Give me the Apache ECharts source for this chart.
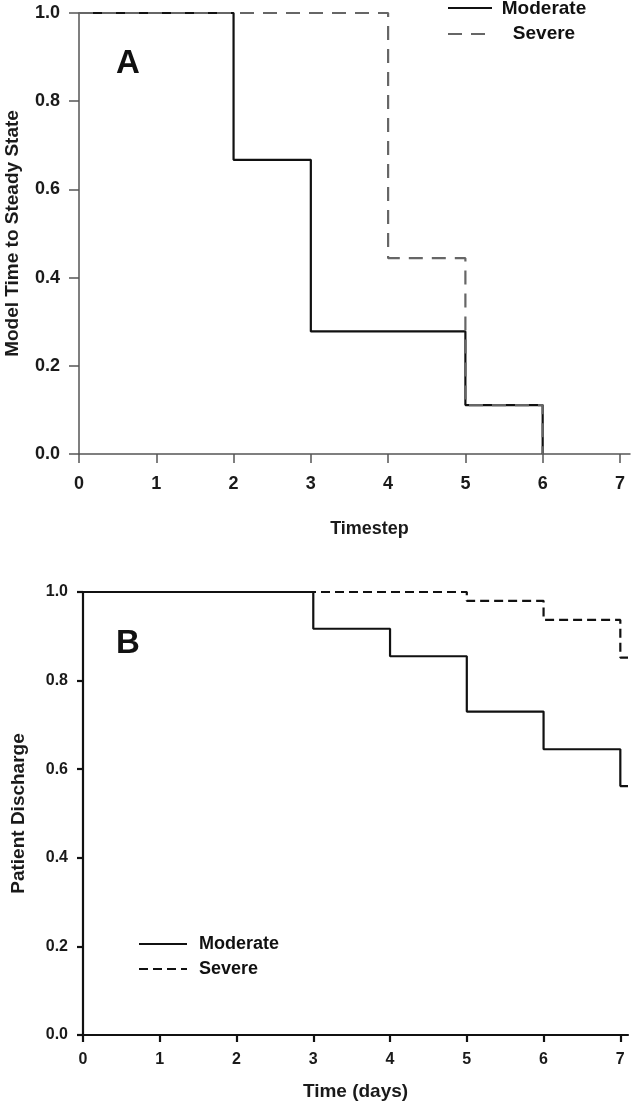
<!DOCTYPE html>
<html>
<head>
<meta charset="utf-8">
<script src="https://cdn.jsdelivr.net/npm/echarts@6/dist/echarts.min.js"></script>
<style>
html,body{margin:0;padding:0;background:#fff;}
#chart{width:631px;height:1111px;}
</style>
</head>
<body>
<div id="chart"></div>
<script>
// ---- data ----
const seriesNames = ['Moderate', 'Severe'];
const xTickValues = [0, 1, 2, 3, 4, 5, 6, 7];
const yTickValues = [0, 0.2, 0.4, 0.6, 0.8, 1.0];

// Panel A: model time to steady state (step drops at each timestep)
const topModerateX = [0, 2, 3, 5, 6];
const topModerateY = [1, 0.667, 0.278, 0.111, 0];
const topSevereX = [0, 4, 5, 6];
const topSevereY = [1, 0.444, 0.111, 0];

// Panel B: patient discharge over days
const botModerateX = [0, 3, 4, 5, 6, 7, 7.1];
const botModerateY = [1, 0.917, 0.855, 0.73, 0.645, 0.562, 0.562];
const botSevereX = [0, 5, 6, 7, 7.1];
const botSevereY = [1, 0.98, 0.937, 0.852, 0.852];

const topTitles = { x: 'Timestep', y: 'Model Time to Steady State', panel: 'A' };
const botTitles = { x: 'Time (days)', y: 'Patient Discharge', panel: 'B' };

function pairs(xs, ys) { return xs.map((x, i) => [x, ys[i]]); }

const FONT = '"Liberation Sans", Arial, sans-serif';

function xAxisCfg(gridIndex, max, color, width, labelSize, margin, tickLen, name, nameGap, nameSize, namePad) {
  return {
    type: 'value', gridIndex, min: 0, max, interval: 1,
    axisLine: { show: true, onZero: false, lineStyle: { color, width } },
    axisTick: { show: true, customValues: xTickValues, length: tickLen, lineStyle: { color, width } },
    axisLabel: { customValues: xTickValues, margin, fontFamily: FONT, fontWeight: 'bold', fontSize: labelSize, color: '#1a1a1a' },
    splitLine: { show: false },
    name, nameLocation: 'middle', nameGap,
    nameTextStyle: { fontFamily: FONT, fontWeight: 'bold', fontSize: nameSize, color: '#1a1a1a', padding: namePad }
  };
}
function yAxisCfg(gridIndex, color, width, labelSize, margin, tickLen, name, nameGap, nameSize) {
  return {
    type: 'value', gridIndex, min: 0, max: 1, interval: 0.2,
    axisLine: { show: true, onZero: false, lineStyle: { color, width } },
    axisTick: { show: true, length: tickLen, lineStyle: { color, width } },
    axisLabel: { margin, fontFamily: FONT, fontWeight: 'bold', fontSize: labelSize, color: '#1a1a1a',
      formatter: v => v.toFixed(1) },
    splitLine: { show: false },
    name, nameLocation: 'middle', nameGap,
    nameTextStyle: { fontFamily: FONT, fontWeight: 'bold', fontSize: nameSize, color: '#1a1a1a' }
  };
}

const chart = echarts.init(document.getElementById('chart'), null, { renderer: 'canvas' });

const legendText = { fontFamily: FONT, fontWeight: 'bold', fontSize: 18, fill: '#111' };

chart.setOption({
  backgroundColor: '#fff',
  animation: false,
  grid: [
    { left: 79, top: 13, width: 551, height: 441, containLabel: false, outerBoundsMode: 'none' },
    { left: 83, top: 592, width: 545, height: 443, containLabel: false, outerBoundsMode: 'none' }
  ],
  xAxis: [
    xAxisCfg(0, 7.13, '#555', 1.5, 18, 21, 9, topTitles.x, 66, 18, [0, 0, 0, 30]),
    xAxisCfg(1, 7.1, '#111', 2.2, 16, 17, 7, botTitles.x, 47, 19, [0, 0, 0, 0])
  ],
  yAxis: [
    yAxisCfg(0, '#555', 1.5, 18, 19, 10, topTitles.y, 57, 19),
    yAxisCfg(1, '#111', 2.2, 16, 15, 6, botTitles.y, 55, 19)
  ],
  series: [
    { name: seriesNames[0], type: 'line', xAxisIndex: 0, yAxisIndex: 0, step: 'end', symbol: 'none',
      data: pairs(topModerateX, topModerateY), lineStyle: { color: '#111', width: 2.2 }, z: 3 },
    { name: seriesNames[1], type: 'line', xAxisIndex: 0, yAxisIndex: 0, step: 'end', symbol: 'none',
      data: pairs(topSevereX, topSevereY), lineStyle: { color: '#666', width: 2.2, type: [14, 9] }, z: 4 },
    { name: seriesNames[0], type: 'line', xAxisIndex: 1, yAxisIndex: 1, step: 'end', symbol: 'none',
      data: pairs(botModerateX, botModerateY), lineStyle: { color: '#111', width: 2.2 }, z: 3 },
    { name: seriesNames[1], type: 'line', xAxisIndex: 1, yAxisIndex: 1, step: 'end', symbol: 'none',
      data: pairs(botSevereX, botSevereY), lineStyle: { color: '#111', width: 2.2, type: [9, 5] }, z: 4 }
  ],
  graphic: [
    { type: 'text', left: 116, top: 47, style: { text: topTitles.panel, fontFamily: FONT, fontWeight: 'bold', fontSize: 33, fill: '#111' } },
    { type: 'text', left: 116, top: 627, style: { text: botTitles.panel, fontFamily: FONT, fontWeight: 'bold', fontSize: 33, fill: '#111' } },
    // legend A
    { type: 'line', shape: { x1: 448, y1: 8, x2: 492, y2: 8 }, style: { stroke: '#111', lineWidth: 2 } },
    { type: 'line', shape: { x1: 448, y1: 34, x2: 492, y2: 34 }, style: { stroke: '#666', lineWidth: 2, lineDash: [14, 9] } },
    { type: 'text', x: 544, y: 9, style: Object.assign({ text: seriesNames[0], align: 'center', verticalAlign: 'middle' }, legendText, { fontSize: 19 }) },
    { type: 'text', x: 544, y: 34, style: Object.assign({ text: seriesNames[1], align: 'center', verticalAlign: 'middle' }, legendText, { fontSize: 19 }) },
    // legend B
    { type: 'line', shape: { x1: 139, y1: 944, x2: 187, y2: 944 }, style: { stroke: '#111', lineWidth: 2 } },
    { type: 'line', shape: { x1: 139, y1: 969, x2: 187, y2: 969 }, style: { stroke: '#111', lineWidth: 2, lineDash: [9, 5] } },
    { type: 'text', x: 199, y: 944, style: Object.assign({ text: seriesNames[0], align: 'left', verticalAlign: 'middle' }, legendText) },
    { type: 'text', x: 199, y: 969, style: Object.assign({ text: seriesNames[1], align: 'left', verticalAlign: 'middle' }, legendText) }
  ]
});
</script>
</body>
</html>
